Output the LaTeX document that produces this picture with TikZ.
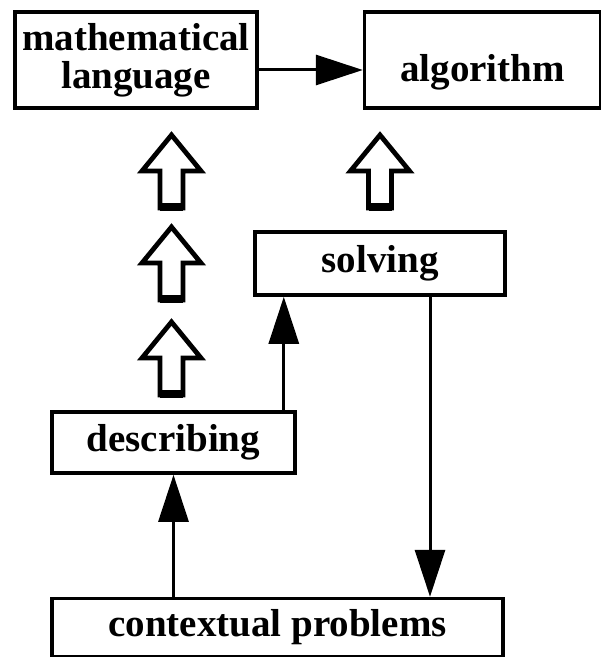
\documentclass[tikz,border=0pt]{standalone}
\usepackage{fontspec}
\usetikzlibrary{arrows.meta, positioning}
\newfontfamily\diagfont{Liberation Serif Bold}
\tikzset{
  stagebox/.style={
    draw, line width=1.8pt, inner sep=0pt, align=center,
    font=\diagfont\fontsize{19.5}{19}\selectfont
  },
  link/.style={-{Triangle[length=23.5pt,width=15pt]}, line width=1.5pt},
  hollowup/.pic={
    \draw[line width=2.4pt, line join=miter]
      (-11.5,0) -- (-11.5,-37) -- (-29.5,-37) -- (0,-73) -- (29.5,-37)
      -- (11.5,-37) -- (11.5,0) -- cycle;
    \draw[line width=3.6pt] (-11.5,-1) -- (11.5,-1);
  }
}
\begin{document}
\begin{tikzpicture}[x=0.5pt, y=-0.5pt]
  \useasboundingbox (0,0) rectangle (600,657);
  % top row
  \node[stagebox, minimum width=121pt, minimum height=48pt] (lang) at (136,60) {mathematical\\language};
  \node[stagebox, minimum width=118pt, minimum height=48pt, text height=22pt, text depth=0pt, right=52pt of lang] (algo) {algorithm};
  % middle and bottom
  \node[stagebox, minimum width=125pt, minimum height=31.5pt] (solve) at (380,263.5) {solving};
  \node[stagebox, minimum width=121.5pt, minimum height=30.5pt] (desc) at (173.5,442.5) {describing};
  \node[stagebox, minimum width=225.5pt, minimum height=29pt, below=61pt of desc.south west, anchor=north west] (ctx) {contextual problems};

  % hollow arrows
  \pic at (171.5,208) {hollowup};
  \pic at (171.5,300) {hollowup};
  \pic at (171.5,395) {hollowup};
  \pic at (380,208) {hollowup};

  % connectors
  \draw[link] ([yshift=-5pt]lang.east) -- ([yshift=-5pt]algo.west);
  \draw[link] (desc.south |- ctx.north) -- (desc.south);
  \draw[link] ([xshift=-6.5pt]desc.north east) -- ([xshift=-6.5pt]desc.north east |- solve.south);
  \draw[link] ([xshift=25pt]solve.south) -- ([xshift=25pt]solve.south |- ctx.north);
\end{tikzpicture}
\end{document}
